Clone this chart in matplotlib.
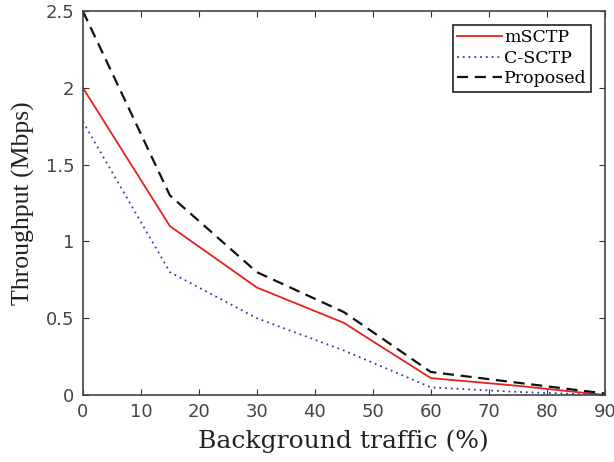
import matplotlib
matplotlib.use('Agg')
import matplotlib.pyplot as plt

# background traffic (%) and throughput (Mbps) per scheme
traffic = [0, 15, 30, 45, 60, 75, 90]
msctp = [2.0, 1.1, 0.7, 0.47, 0.11, 0.06, 0.0]
csctp = [1.78, 0.8, 0.5, 0.29, 0.05, 0.02, 0.0]
proposed = [2.5, 1.3, 0.8, 0.54, 0.15, 0.08, 0.01]

xticks = [0, 10, 20, 30, 40, 50, 60, 70, 80, 90]
yticks = [0, 0.5, 1, 1.5, 2, 2.5]
ytick_labels = ['0', '0.5', '1', '1.5', '2', '2.5']

fig = plt.figure(figsize=(6.14, 4.62), dpi=100)
ax = fig.add_axes([0.135, 0.145, 0.85, 0.831])

ax.plot(traffic, msctp, color='#e8201c', lw=1.3, label='mSCTP')
ax.plot(traffic, csctp, color='#3a3aa8', lw=1.3, ls=(0, (1, 2.2)), label='C-SCTP')
ax.plot(traffic, proposed, color='#111111', lw=1.6, ls=(0, (5, 3)), label='Proposed')

ax.set_xlim(0, 90)
ax.set_ylim(0, 2.5)
ax.set_xticks(xticks)
ax.set_yticks(yticks)
ax.set_yticklabels(ytick_labels)
ax.tick_params(direction='in', top=True, right=True, length=4,
               labelsize=13, colors='#333333', pad=6)
for lab in ax.get_xticklabels() + ax.get_yticklabels():
    lab.set_family('DejaVu Sans')
    lab.set_color('#444444')
for s in ax.spines.values():
    s.set_color('#444444')
    s.set_linewidth(1.2)

ax.set_xlabel('Background traffic (%)', family='DejaVu Serif',
              fontsize=18, color='#222222', labelpad=6)
ax.set_ylabel('Throughput (Mbps)', family='Liberation Serif',
              fontsize=18.5, color='#222222', labelpad=8)

leg = ax.legend(loc='upper right', prop={'family': 'DejaVu Serif', 'size': 12.5},
                fancybox=False, framealpha=1, edgecolor='#222222',
                handlelength=2.6, handletextpad=0.1, borderpad=0.25,
                labelspacing=0.2, borderaxespad=0.8)
leg.get_frame().set_linewidth(1.2)

fig.savefig('out.png', dpi=100)
